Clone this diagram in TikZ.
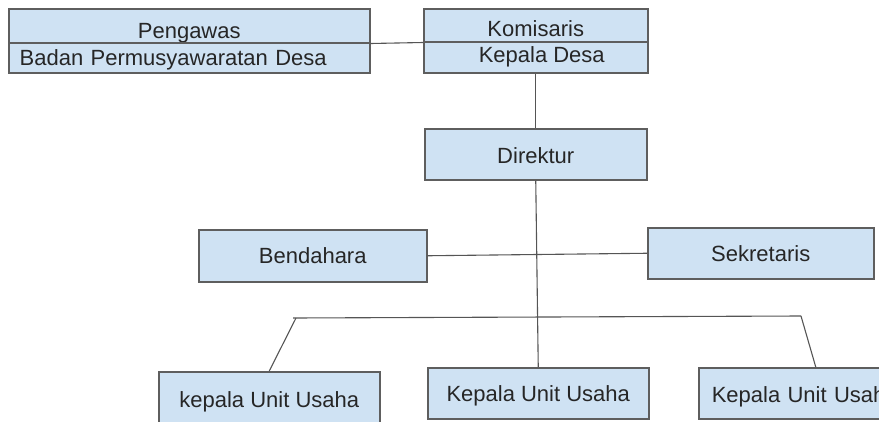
\documentclass[tikz,border=0pt]{standalone}
\usepackage{fontspec}
\setmainfont{Liberation Sans}
\definecolor{boxfill}{HTML}{CFE2F3}
\definecolor{boxline}{HTML}{5E5E5E}
\definecolor{conline}{HTML}{555555}
\definecolor{txt}{HTML}{262626}
\begin{document}
\begin{tikzpicture}[x=1pt,y=-1pt,
  box/.style={draw=boxline, fill=boxfill, line width=1.5pt, inner sep=0pt,
    anchor=north west, text=txt, font=\fontsize{22}{26}\selectfont,
    text height=16pt, text depth=0pt},
  con/.style={draw=conline, line width=1.1pt}]
\useasboundingbox (0,0) rectangle (879,421);
\clip (0,0) rectangle (879,421);
% top row
\node[box, minimum width=361pt, minimum height=34pt, text height=25pt] (pengA) at (8,8) {Pengawas};
\node[box, minimum width=361pt, minimum height=30pt, text width=339pt, inner xsep=11pt, align=left] (pengB) at (8,42) {Badan Permusyawaratan Desa};
\node[box, minimum width=224pt, minimum height=33pt, text height=22pt] (komA) at (423,8) {Komisaris};
\node[box, minimum width=224pt, minimum height=31pt, text depth=5pt, xshift=0pt] (komB) at (423,41) {\hspace*{12pt}Kepala Desa};
% direktur
\node[box, minimum width=222pt, minimum height=51pt, text height=18pt] (dir) at (424,128) {Direktur};
% staff
\node[box, minimum width=228pt, minimum height=52pt] (bend) at (198,229) {Bendahara};
\node[box, minimum width=226pt, minimum height=51pt] (sek) at (647,227) {Sekretaris};
% units
\node[box, minimum width=221pt, minimum height=53pt, text height=18.6pt] (unitL) at (158,371) {kepala Unit Usaha};
\node[box, minimum width=221pt, minimum height=51pt] (unitM) at (427,367) {Kepala Unit Usaha};
\node[box, minimum width=221pt, minimum height=51pt, text height=19pt, text width=208pt, inner xsep=13pt, align=left] (unitR) at (698,367) {Kepala Unit Usaha};
% connectors
\coordinate (hl) at (293,318);
\coordinate (hs) at (296,318);
\coordinate (hr) at (801,316);
\draw[con] (pengA.south east) -- (komA.south west);
\draw[con] (komB.south) -- (dir.north);
\draw[con] (dir.south) -- (unitM.north);
\draw[con] (bend.east) -- (sek.west);
\draw[con] (hl) -- (hr);
\draw[con] (unitL.north) -- (hs);
\draw[con] (hr) -- (unitR.north);
\end{tikzpicture}
\end{document}
